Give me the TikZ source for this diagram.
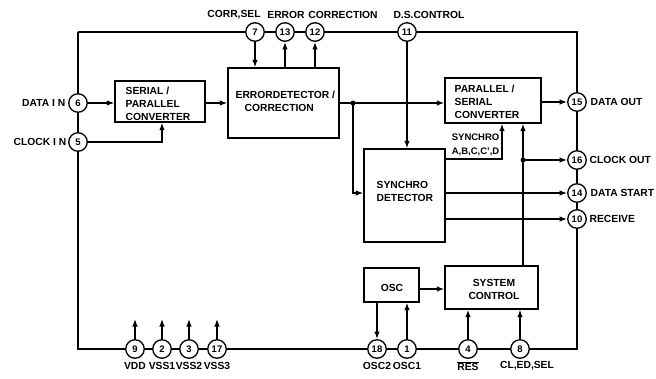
\documentclass[tikz,border=0pt]{standalone}
\usepackage{fontspec}
\setmainfont{Liberation Sans}
\usetikzlibrary{arrows.meta}
\begin{document}
\begin{tikzpicture}[x=1pt,y=-1pt,
  line width=1.3pt,
  font=\bfseries\fontsize{10.3}{13}\selectfont,
  pin/.style={draw,circle,fill=white,minimum size=18.5pt,inner sep=0pt,font=\bfseries\fontsize{9.5}{10}\selectfont},
  arr/.style={-{Latex[length=7.5pt,width=5.5pt]}},
  lbl/.style={inner sep=0pt,align=left},
  dot/.style={circle,fill,inner sep=0pt,minimum size=5pt}]
\useasboundingbox (0,0) rectangle (656,378);
% blocks
\node[draw,minimum width=90pt,minimum height=41pt] (sp) at (160,101.5) {};
\node[draw,minimum width=111pt,minimum height=70pt] (ed) at (283.5,103) {};
\node[draw,minimum width=96pt,minimum height=45pt] (ps) at (493,100.5) {};
\node[draw,minimum width=81pt,minimum height=93pt] (sd) at (404.5,195.5) {};
\node[draw,minimum width=55pt,minimum height=34pt] (osc) at (391.5,285) {};
\node[draw,minimum width=93pt,minimum height=43pt] (sc) at (491.5,287.5) {};
% block texts
\node[lbl,anchor=west] (tsp) at (125,103.5) {SERIAL /\\PARALLEL\\CONVERTER};
\node[lbl,anchor=west] (ted) at (235,101.5) {ERRORDETECTOR /\\\hspace*{9pt}CORRECTION};
\node[lbl,anchor=west] (tps) at (454,102) {PARALLEL /\\SERIAL\\CONVERTER};
\node[lbl,anchor=west] (tsd) at (376,191) {SYNCHRO\\DETECTOR};
\node[lbl] (tosc) at (392,288) {OSC};
\node[lbl,align=center] (tsc) at (494,289) {SYSTEM\\CONTROL};
% frame corners
\coordinate (TL) at (78,32);
\coordinate (TR) at (577,32);
\coordinate (BR) at (577,349);
\coordinate (BL) at (78,349);
% pins
\node[pin] (p7) at (255,32) {7};
\node[pin] (p13) at (285,32) {13};
\node[pin] (p12) at (315,32) {12};
\node[pin] (p11) at (407,32) {11};
\node[pin] (p6) at (78,103) {6};
\node[pin] (p5) at (78,142) {5};
\node[pin] (p15) at (577,102) {15};
\node[pin] (p16) at (577,160) {16};
\node[pin] (p14) at (577,193) {14};
\node[pin] (p10) at (577,219) {10};
\node[pin] (p9) at (135,349) {9};
\node[pin] (p2) at (162,349) {2};
\node[pin] (p3) at (189,349) {3};
\node[pin] (p17) at (217,349) {17};
\node[pin] (p18) at (377,349) {18};
\node[pin] (p1) at (407,349) {1};
\node[pin] (p4) at (468,349) {4};
\node[pin] (p8) at (520,349) {8};
% frame
\draw (TL) -- (p7) -- (p13) -- (p12) -- (p11) -- (TR) -- (p15) -- (p16) -- (p14) -- (p10) -- (BR) -- (p8) -- (p4) -- (p1) -- (p18) -- (p17) -- (p3) -- (p2) -- (p9) -- (BL) -- (p5) -- (p6) -- (TL);
% connectors
\coordinate (c5) at (162,142);
\draw[arr] (p5) -- (c5) -- (c5 |- sp.south);
\draw[arr] (p6) -- (sp.west |- p6);
\draw[arr] (sp.east |- p6) -- (ed.west |- p6);
\draw[arr] (p7) -- (p7 |- ed.north);
\draw[arr] (p13 |- ed.north) -- (p13);
\draw[arr] (p12 |- ed.north) -- (p12);
\draw[arr] (p11) -- (p11 |- sd.north);
\coordinate (j1) at (353,103);
\coordinate (j2) at (353,193);
\draw[arr] (ed.east |- j1) -- (ps.west |- j1);
\draw[arr] (j1) -- (j2) -- (j2 -| sd.west);
\node[dot] (d1) at (j1) {};
\draw[arr] (ps.east |- p15) -- (p15);
\coordinate (s1) at (502,159);
\draw[arr] (s1 -| sd.east) -- (s1) -- (s1 |- ps.south);
\coordinate (j3) at (523,160);
\draw[arr] (sc.north -| j3) -- (j3 |- ps.south);
\draw[arr] (j3) -- (p16);
\node[dot] (d3) at (j3) {};
\draw[arr] (sd.east |- p14) -- (p14);
\draw[arr] (sd.east |- p10) -- (p10);
\coordinate (o1) at (419,289);
\draw[arr] (osc.east |- o1) -- (sc.west |- o1);
\draw[arr] (osc.south -| p18) -- (p18);
\draw[arr] (p1) -- (p1 |- osc.south);
\draw[arr] (p4) -- (p4 |- sc.south);
\draw[arr] (p8) -- (p8 |- sc.south);
% power pins
\coordinate (v9) at (135,319);
\coordinate (v2) at (162,319);
\coordinate (v3) at (189,319);
\coordinate (v17) at (217,319);
\draw[arr] (p9) -- (v9);
\draw[arr] (p2) -- (v2);
\draw[arr] (p3) -- (v3);
\draw[arr] (p17) -- (v17);
% labels
\node[lbl] (lcs) at (234,15) {CORR,SEL};
\node[lbl] (ler) at (286,15) {ERROR};
\node[lbl] (lco) at (343,15) {CORRECTION};
\node[lbl] (lds) at (429,15) {D.S.CONTROL};
\node[lbl,anchor=west] (ldo) at (590,102) {DATA OUT};
\node[lbl,anchor=west] (lcko) at (589,160) {CLOCK OUT};
\node[lbl,anchor=west] (lds2) at (590,193) {DATA START};
\node[lbl,anchor=west] (lrc) at (589,219) {RECEIVE};
\node[lbl,anchor=east] (ldi) at (66,103) {DATA I N};
\node[lbl,anchor=east] (lci) at (67,142) {CLOCK I N};
\node[lbl] (lvdd) at (135,366) {VDD};
\node[lbl] (lvs1) at (162,366) {VSS1};
\node[lbl] (lvs2) at (189,366) {VSS2};
\node[lbl] (lvs3) at (217,366) {VSS3};
\node[lbl] (losc2) at (377,366) {OSC2};
\node[lbl] (losc1) at (407,366) {OSC1};
\node[lbl] (lres) at (468,366) {$\overline{\mbox{RES}}$};
\node[lbl] (lcl) at (527,366) {CL,ED,SEL};
\node[lbl,align=right,anchor=east,font=\bfseries\fontsize{9.5}{14}\selectfont] (lsyn) at (500,144.5) {SYNCHRO\\A,B,C,C',D};
\end{tikzpicture}
\end{document}
